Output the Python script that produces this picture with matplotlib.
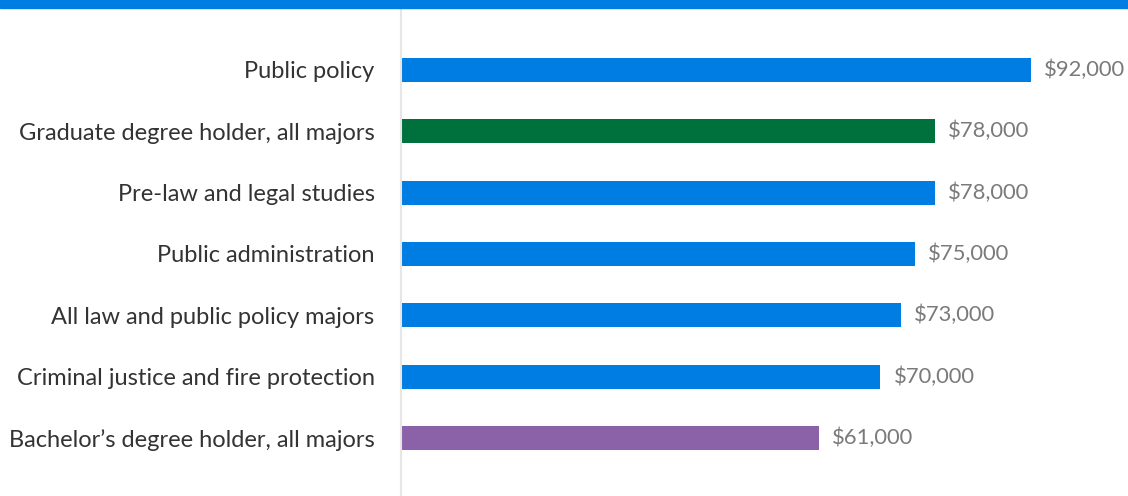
import matplotlib
matplotlib.use("Agg")
import matplotlib.pyplot as plt
from matplotlib.patches import Rectangle

categories = [
    "Public policy",
    "Graduate degree holder, all majors",
    "Pre-law and legal studies",
    "Public administration",
    "All law and public policy majors",
    "Criminal justice and fire protection",
    "Bachelor\u2019s degree holder, all majors",
]
values = [92000, 78000, 78000, 75000, 73000, 70000, 61000]
kinds = ["major", "grad", "major", "major", "major", "major", "bach"]

color_map = {"major": "#007DE3", "grad": "#00703C", "bach": "#8B62A8"}

W, H = 1128, 496
plt.rcParams["font.family"] = ["Lato", "DejaVu Sans"]
fig = plt.figure(figsize=(W / 100, H / 100), dpi=100)

# top band
fig.patches.append(Rectangle((0, 1 - 8 / H), 1, 8 / H, transform=fig.transFigure,
                             color="#007DE3", zorder=0))

ax_left = 401 / W
ax = fig.add_axes([ax_left, 0, 1 - ax_left, (H - 8) / H])
xmax = 92000 * (W - 401) / 630
ax.set_xlim(0, xmax)
step = 61.33
ax.set_ylim((H - 70) / step, (8 - 70) / step)

ys = list(range(len(categories)))
ax.barh(ys, values, height=24 / step, color=[color_map[k] for k in kinds], zorder=2)

for y, v in zip(ys, values):
    ax.annotate(f"${v:,}", xy=(v, y), xytext=(9.5, 0), textcoords="offset points",
                va="center", ha="left", fontsize=15.8, color="#7a7a7a",
                annotation_clip=False)

ax.set_yticks(ys)
ax.set_yticklabels(categories, fontsize=17, color="#333333")
ax.tick_params(axis="y", length=0, pad=19)
ax.set_xticks([])
for s in ["top", "right", "bottom"]:
    ax.spines[s].set_visible(False)
ax.spines["left"].set_color("#e6e6e6")
ax.spines["left"].set_linewidth(1.5)

fig.savefig("out.png", dpi=100)
